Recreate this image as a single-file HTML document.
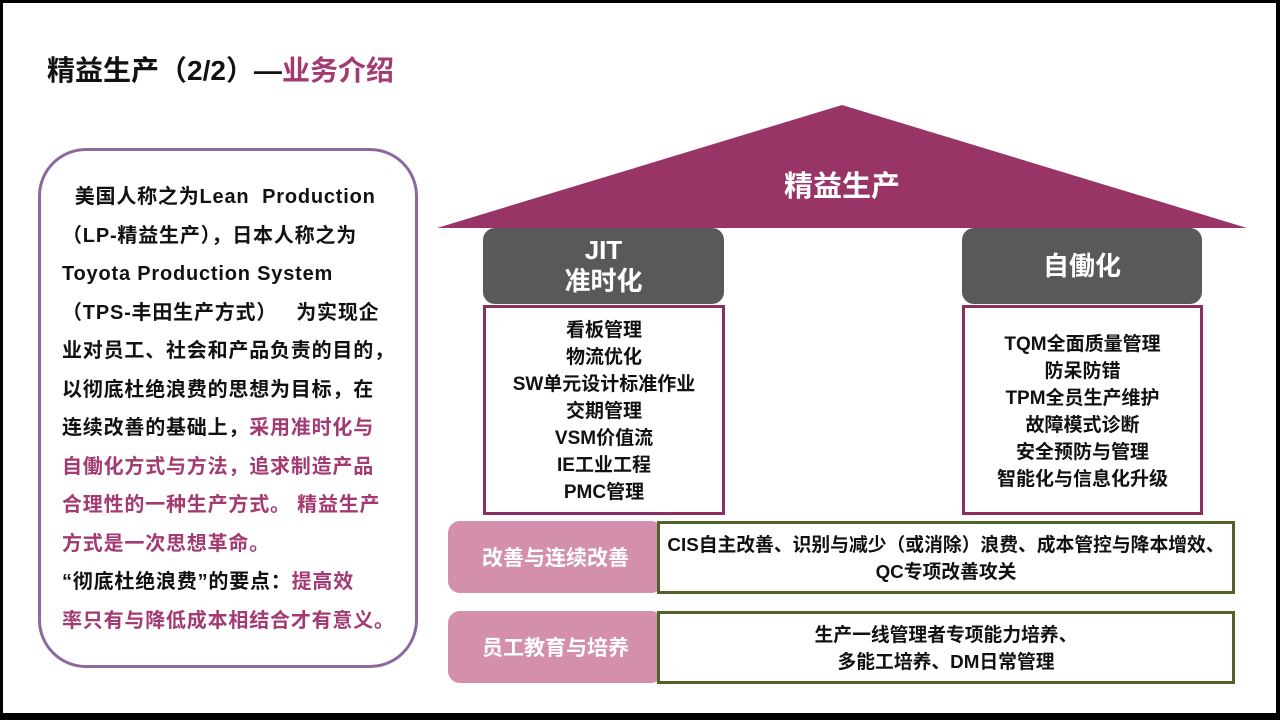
<!DOCTYPE html>
<html><head><meta charset="utf-8"><style>
*{margin:0;padding:0;box-sizing:border-box}
body{width:1280px;height:720px;position:relative;background:#fff;overflow:hidden;font-family:"Liberation Sans","Noto Sans CJK SC",sans-serif;font-weight:bold;color:#111}
.a{position:absolute}
.frame{left:0;top:0;width:1280px;height:720px;border-top:3px solid #000;border-left:3px solid #000;border-right:4px solid #000;border-bottom:7px solid #000}
.title{left:47px;top:49px;font-size:28px;letter-spacing:0px}
.left{left:38px;top:148px;width:380px;height:520px;border:3px solid #8a6a9e;border-radius:48px}
.lt{left:62px;top:178px;width:350px;font-size:20px;letter-spacing:0.8px;line-height:38.5px;white-space:nowrap}
.pk{color:#a33a72}
.gray{background:#595959;color:#fff;border-radius:12px;text-align:center;display:flex;flex-direction:column;justify-content:center;font-size:26px;line-height:31px}
.list{border:3px solid #8b2f62;text-align:center;font-size:19px;line-height:27px}
.pink{background:#d48fac;color:#fff;border-radius:12px;display:flex;align-items:center;justify-content:center;font-size:21px}
.green{border:3px solid #4f6228;background:#fff;text-align:center;font-size:18.8px;line-height:27px;display:flex;flex-direction:column;justify-content:center}
</style></head><body>
<div class="a frame"></div>
<div class="a title">精益生产（2/2）—<span class="pk">业务介绍</span></div>
<div class="a left"></div>
<div class="a lt">&nbsp;&nbsp;美国人称之为Lean&nbsp; Production<br>（LP-精益生产），日本人称之为<br>Toyota Production System<br>（TPS-丰田生产方式）&nbsp;&nbsp; 为实现企<br>业对员工、社会和产品负责的目的，<br>以彻底杜绝浪费的思想为目标，在<br>连续改善的基础上，<span class="pk">采用准时化与<br>自働化方式与方法，追求制造产品<br>合理性的一种生产方式。 精益生产<br>方式是一次思想革命。</span><br>“彻底杜绝浪费”的要点：<span class="pk">提高效<br>率只有与降低成本相结合才有意义。</span></div>
<svg class="a" style="left:0;top:0" width="1280" height="720"><polygon points="842,105 437,228 1247,228" fill="#983466"/></svg>
<div class="a" style="left:722px;top:163px;width:240px;text-align:center;color:#fff;font-size:29px">精益生产</div>
<div class="a gray" style="left:483px;top:228px;width:241px;height:76px">JIT<br>准时化</div>
<div class="a gray" style="left:962px;top:228px;width:240px;height:76px">自働化</div>
<div class="a list" style="left:483px;top:305px;width:242px;height:210px;padding-top:9px">看板管理<br>物流优化<br>SW单元设计标准作业<br>交期管理<br>VSM价值流<br>IE工业工程<br>PMC管理</div>
<div class="a list" style="left:962px;top:305px;width:241px;height:210px;padding-top:23px">TQM全面质量管理<br>防呆防错<br>TPM全员生产维护<br>故障模式诊断<br>安全预防与管理<br>智能化与信息化升级</div>
<div class="a pink" style="left:448px;top:521px;width:215px;height:72px">改善与连续改善</div>
<div class="a green" style="left:657px;top:521px;width:578px;height:73px">CIS自主改善、识别与减少（或消除）浪费、成本管控与降本增效、<br>QC专项改善攻关</div>
<div class="a pink" style="left:448px;top:611px;width:215px;height:72px">员工教育与培养</div>
<div class="a green" style="left:657px;top:611px;width:578px;height:73px">生产一线管理者专项能力培养、<br>多能工培养、DM日常管理</div>
</body></html>
